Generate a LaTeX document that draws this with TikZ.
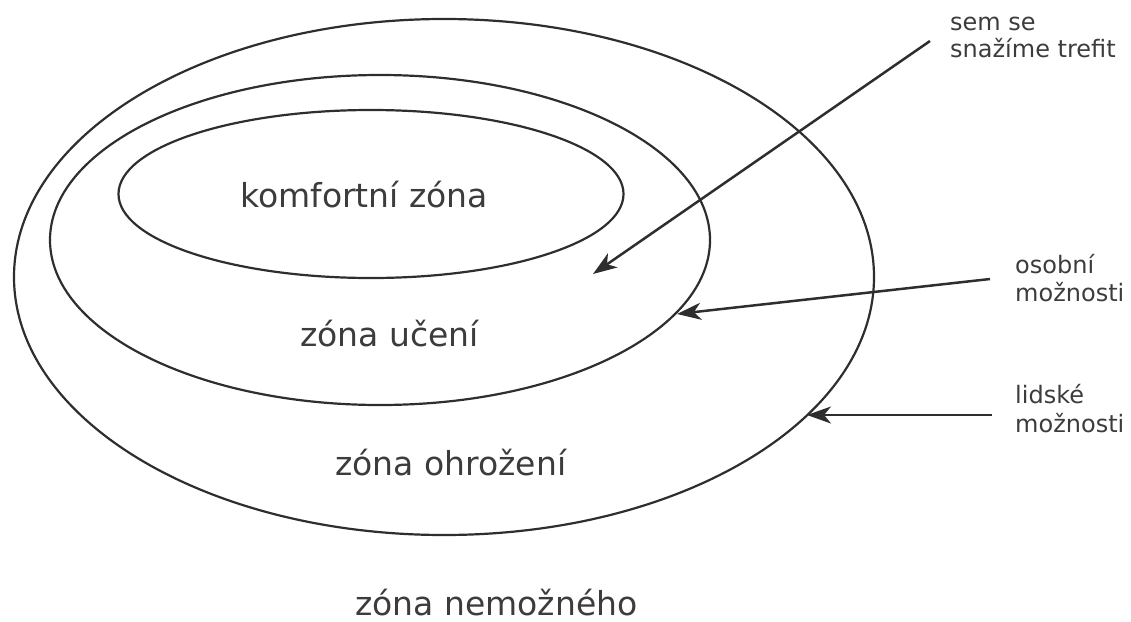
\documentclass[tikz,border=0pt]{standalone}
\usepackage{fontspec}
\setmainfont{DejaVu Sans}
\usetikzlibrary{shapes.geometric,arrows.meta}
\definecolor{ink}{HTML}{2E2E2E}
\definecolor{txt}{HTML}{3C3C3C}
\begin{document}
\begin{tikzpicture}[x=1pt,y=-1pt,
  zone/.style={ellipse,draw=ink,line width=2.2pt,inner sep=0pt},
  big/.style={anchor=base west,inner sep=0pt,text=txt,font=\fontsize{33}{38}\selectfont},
  small/.style={anchor=base west,inner sep=0pt,text=txt,font=\fontsize{24}{28}\selectfont},
  pointer/.style={draw=ink,line width=2.5pt,-{Stealth[length=24pt,width=17pt,inset=7pt]}}]
\useasboundingbox (0,0) rectangle (1131,621);
% zones
\node[zone,minimum width=860pt,minimum height=516pt] (outer) at (444,277) {};
\node[zone,minimum width=660pt,minimum height=330pt] (middle) at (380,240) {};
\node[zone,minimum width=505pt,minimum height=168pt] (inner) at (371,194) {};
% zone labels
\node[big] (komf) at (240,207) {komfortní zóna};
\node[big] (uceni) at (300,346) {zóna učení};
\node[big] (ohroz) at (335,475) {zóna ohrožení};
\node[big] (nemoz) at (355,615) {zóna nemožného};
% side labels
\node[small] (lab1) at (950,30) {\begin{tabular}[t]{@{}l@{}}sem se\\snažíme trefit\end{tabular}};
\node[small] (lab2) at (1015,273) {\begin{tabular}[t]{@{}l@{}}osobní\\možnosti\end{tabular}};
\node[small] (lab3) at (1015,403) {\begin{tabular}[t]{@{}l@{}}lidské\\[1pt]možnosti\end{tabular}};
% arrows
\coordinate (t1) at (930,41);
\coordinate (h1) at (593,274);
\coordinate (t2) at (990,279);
\coordinate (h2) at (677,314);
\coordinate (t3) at (992,415);
\coordinate (h3) at (807,415);
\draw[pointer] (t1) -- (h1);
\draw[pointer] (t2) -- (h2);
\draw[pointer] (t3) -- (h3);
\end{tikzpicture}
\end{document}
